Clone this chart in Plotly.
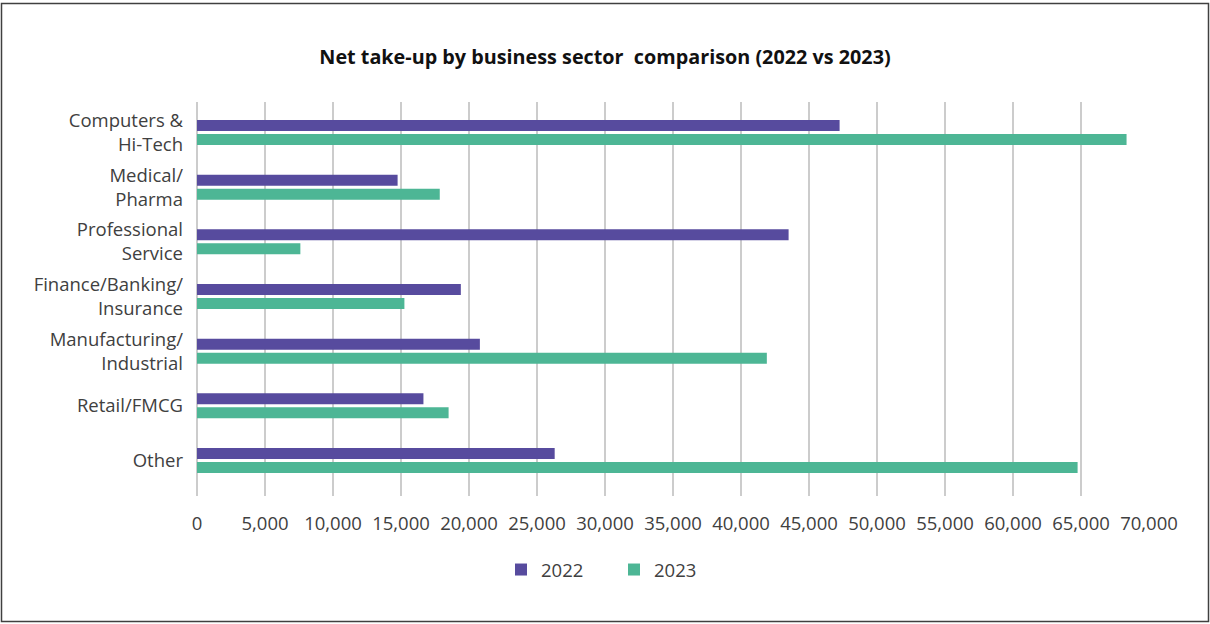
import plotly.graph_objects as go

# Net take-up by business sector, sq ft
sectors = [
    "Computers &\nHi-Tech",
    "Medical/\nPharma",
    "Professional\nService",
    "Finance/Banking/\nInsurance",
    "Manufacturing/\nIndustrial",
    "Retail/FMCG",
    "Other",
]
take_up_2022 = [47250, 14750, 43500, 19400, 20800, 16650, 26300]
take_up_2023 = [68350, 17850, 7600, 15250, 41900, 18500, 64750]
x_ticks = list(range(0, 70001, 5000))

PURPLE = "#574B9E"
GREEN = "#4DB695"
TEXT = "#404040"
GRID = "#cccccc"
FONT = "Open Sans"

W, H = 1210, 624
ML, MR, MT, MB = 197, 61, 102, 128
PW, PH = W - ML - MR, H - MT - MB

fig = go.Figure()
fig.add_trace(go.Bar(y=sectors, x=take_up_2022, name="2022", orientation="h",
                     marker=dict(color=PURPLE, line=dict(width=0))))
fig.add_trace(go.Bar(y=sectors, x=take_up_2023, name="2023", orientation="h",
                     marker=dict(color=GREEN, line=dict(width=0))))


# outer frame
def px_x(p):
    return (p - ML) / PW


def px_y(p):
    return (MT + PH - p) / PH


fig.add_shape(type="rect", xref="paper", yref="paper",
              x0=px_x(1.5), x1=px_x(1208.5), y0=px_y(621.5), y1=px_y(3.5),
              line=dict(color="#404040", width=1.5), fillcolor="rgba(0,0,0,0)",
              layer="above")

fig.update_layout(
    width=W, height=H,
    margin=dict(l=ML, r=MR, t=MT, b=MB, autoexpand=False),
    paper_bgcolor="white", plot_bgcolor="white",
    barmode="group", bargap=0.488, bargroupgap=0.214,
    font=dict(family=FONT, size=18, color=TEXT),
    title=dict(text="<b>Net take-up by business sector\u00a0 comparison (2022 vs 2023)</b>",
               x=0.5, xref="container", xanchor="center",
               y=1 - 57 / H, yref="container", yanchor="middle",
               font=dict(family=FONT, size=19.8, color="#111111")),
    xaxis=dict(range=[0, 70000], tickvals=x_ticks, tickformat=",",
               showgrid=True, gridcolor=GRID, gridwidth=1.5,
               zeroline=True, zerolinecolor=GRID, zerolinewidth=1.5,
               showline=False, ticks="", ticklabelstandoff=14,
               tickfont=dict(family=FONT, size=18.5, color=TEXT)),
    yaxis=dict(type="category", categoryorder="array", categoryarray=sectors,
               tickvals=sectors, ticktext=[s.replace("\n", "<br>") for s in sectors],
               range=[6.649, -0.558], ticklabelstandoff=13,
               tickfont=dict(family=FONT, size=18.5, color=TEXT),
               showgrid=False, zeroline=False, showline=False, ticks=""),
    legend=dict(orientation="h", x=(501 - ML) / PW, xanchor="left",
                y=(MT + PH - 570) / PH, yanchor="middle",
                entrywidth=68, entrywidthmode="pixels",
                font=dict(family=FONT, size=18.5, color=TEXT),
                itemclick=False),
    showlegend=True,
)

fig.write_html("out.html")
